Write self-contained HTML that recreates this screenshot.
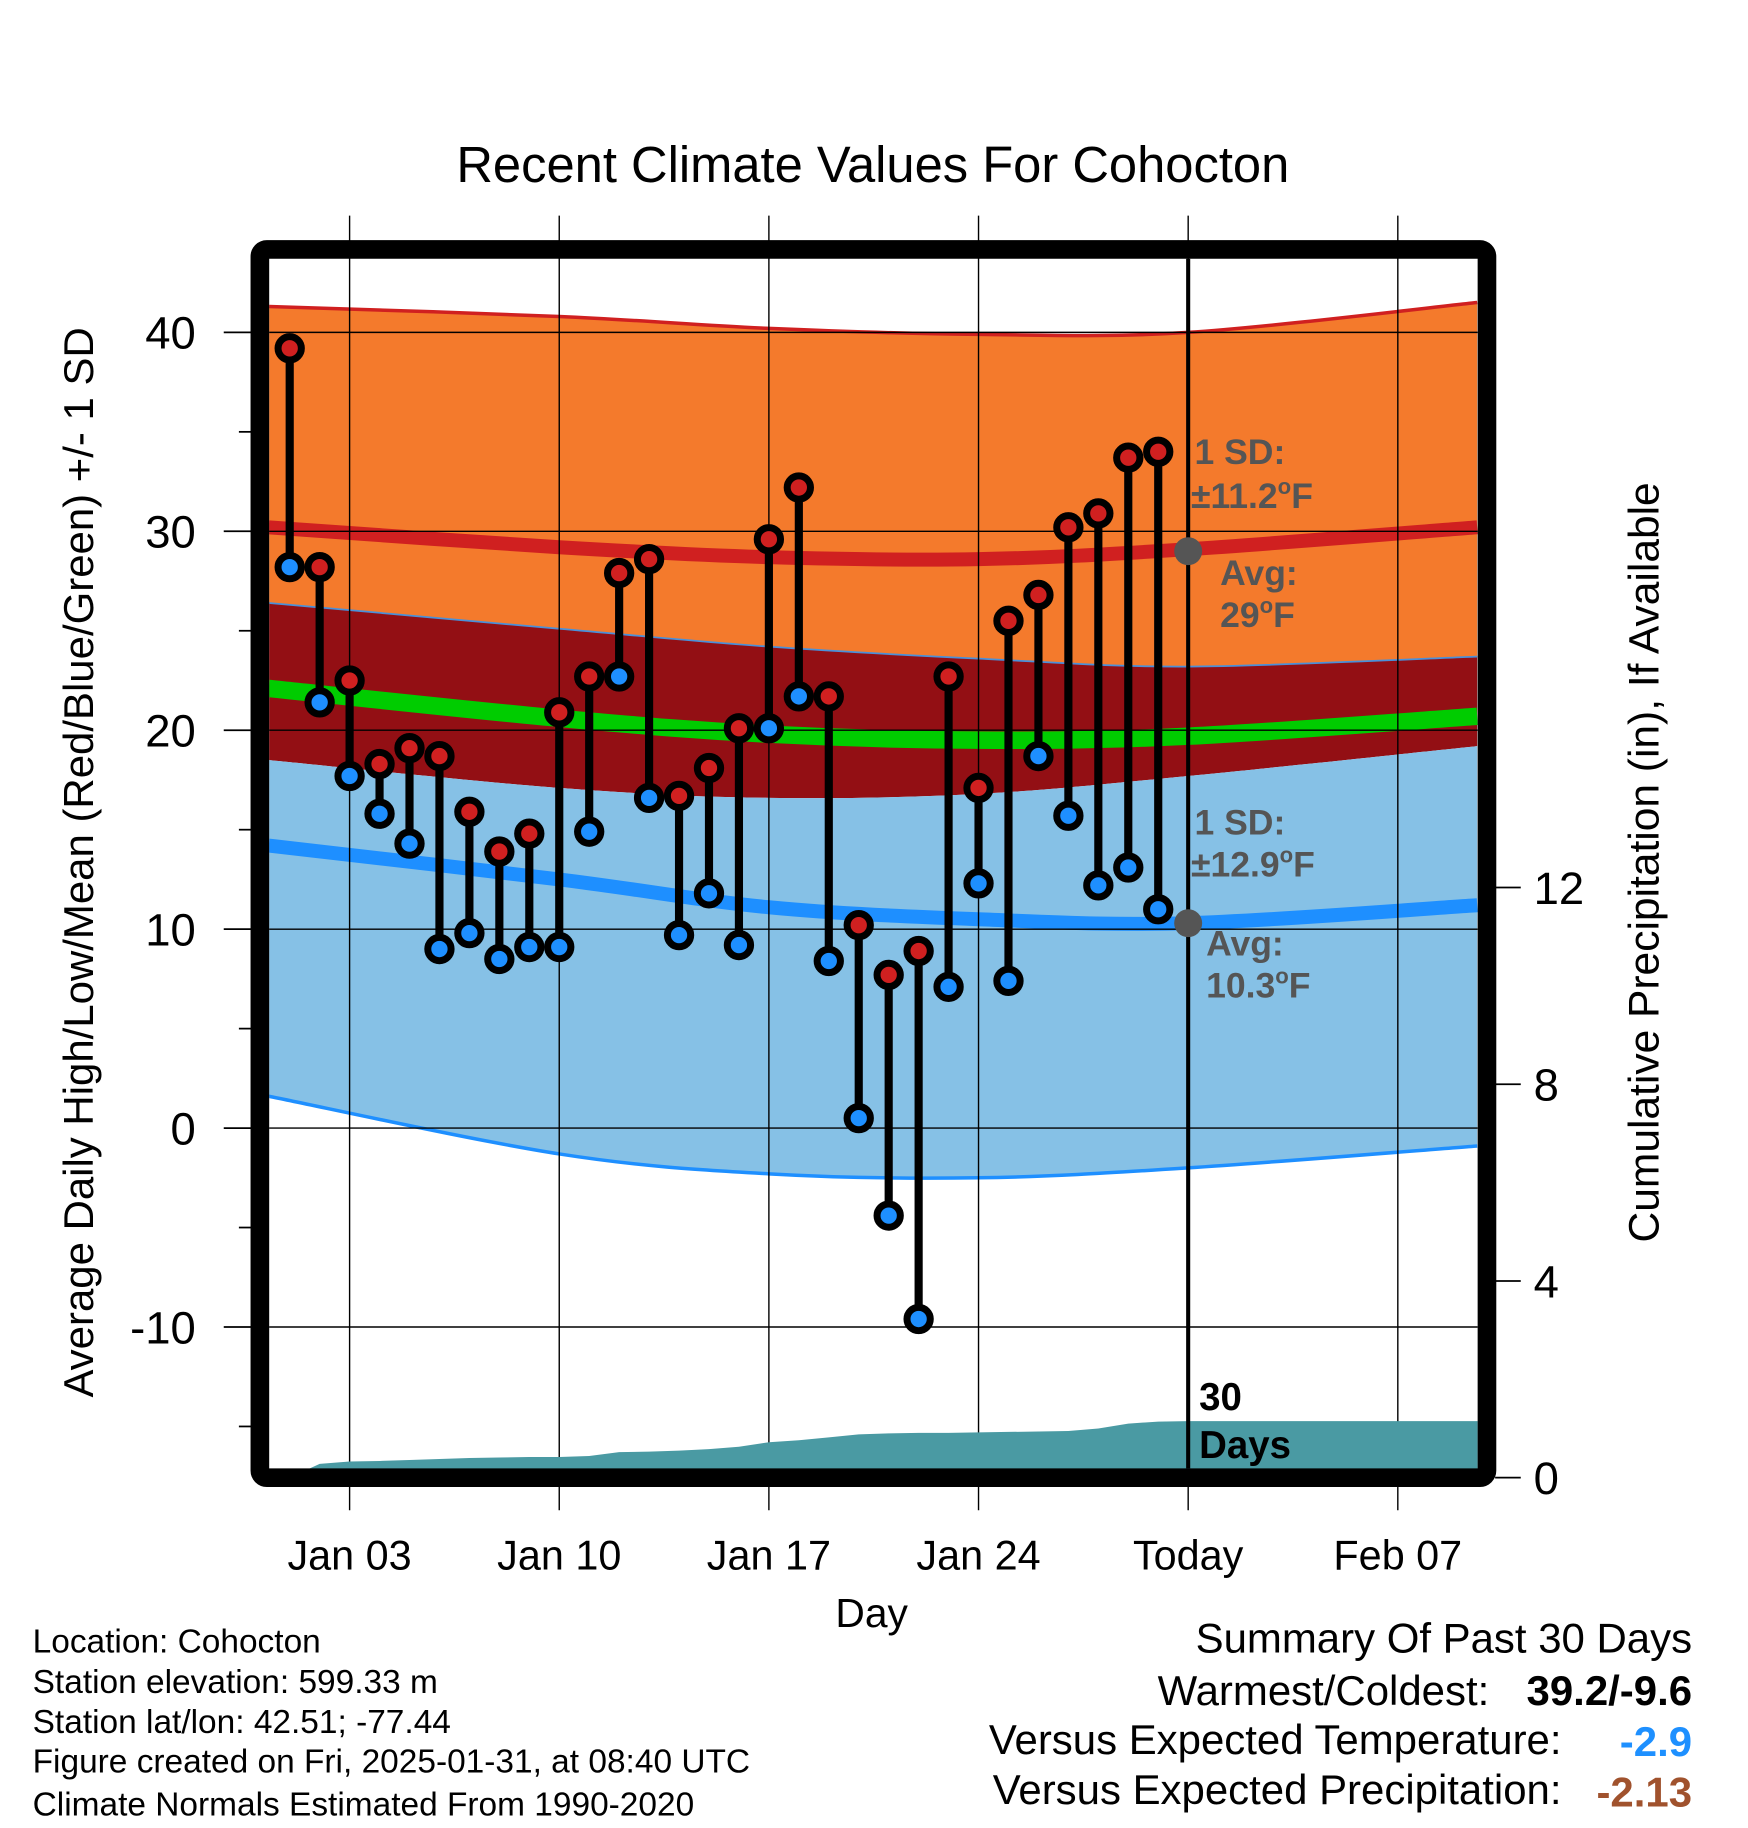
<!DOCTYPE html>
<html><head><meta charset="utf-8"><style>
html,body{margin:0;padding:0;background:#fff}
svg{display:block;font-family:"Liberation Sans",sans-serif}
</style></head><body>
<svg id="chart" width="1748" height="1828" viewBox="0 0 1500 1568.6" xmlns="http://www.w3.org/2000/svg">
<text x="749" y="156" font-size="43.5" text-anchor="middle">Recent Climate Values For Cohocton</text>
<g id="bands"></g>
<g id="grid"></g>
<g id="precip"></g>
<g id="marks"></g>
<g id="axes"></g>
<text transform="translate(80,740) rotate(-90)" font-size="36" text-anchor="middle">Average Daily High/Low/Mean (Red/Blue/Green) +/- 1 SD</text>
<text transform="translate(1423,740) rotate(-90)" font-size="36.5" text-anchor="middle">Cumulative Precipitation (in), If Available</text>
<text x="748" y="1396" font-size="35" text-anchor="middle">Day</text>
<g fill="#555" font-weight="bold" font-size="30.5">
<text x="1025" y="398">1 SD:</text>
<text x="1022" y="436">±11.2<tspan dy="-12" font-size="19">o</tspan><tspan dy="12">F</tspan></text>
<text x="1047" y="502">Avg:</text>
<text x="1047" y="538">29<tspan dy="-12" font-size="19">o</tspan><tspan dy="12">F</tspan></text>
<text x="1025" y="716">1 SD:</text>
<text x="1022" y="752">±12.9<tspan dy="-12" font-size="19">o</tspan><tspan dy="12">F</tspan></text>
<text x="1035" y="820">Avg:</text>
<text x="1035" y="856">10.3<tspan dy="-12" font-size="19">o</tspan><tspan dy="12">F</tspan></text>
</g>
<g font-size="28.7">
<text x="28" y="1418">Location: Cohocton</text>
<text x="28" y="1453">Station elevation: 599.33 m</text>
<text x="28" y="1487">Station lat/lon: 42.51; -77.44</text>
<text x="28" y="1521">Figure created on Fri, 2025-01-31, at 08:40 UTC</text>
<text x="28" y="1558">Climate Normals Estimated From 1990-2020</text>
</g>
<g font-size="36">
<text x="1452" y="1418" text-anchor="end">Summary Of Past 30 Days</text>
<text x="1278" y="1463" text-anchor="end">Warmest/Coldest:</text>
<text x="1452" y="1463" text-anchor="end" font-weight="bold">39.2/-9.6</text>
<text x="1340" y="1505" text-anchor="end">Versus Expected Temperature:</text>
<text x="1452" y="1507" text-anchor="end" font-weight="bold" fill="#1e90ff">-2.9</text>
<text x="1340" y="1548" text-anchor="end">Versus Expected Precipitation:</text>
<text x="1452" y="1550" text-anchor="end" font-weight="bold" fill="#a0522d">-2.13</text>
</g>
</svg>
<script>
// data
const highs=[39.2,28.2,22.5,18.3,19.1,18.7,15.9,13.9,14.8,20.9,22.7,27.9,28.6,16.7,18.1,20.1,29.6,32.2,21.7,10.2,7.7,8.9,22.7,17.1,25.5,26.8,30.2,30.9,33.7,34.0];
const lows=[28.2,21.4,17.7,15.8,14.3,9.0,9.8,8.5,9.1,9.1,14.9,22.7,16.6,9.7,11.8,9.2,20.1,21.7,8.4,0.5,-4.4,-9.6,7.1,12.3,7.4,18.7,15.7,12.2,13.1,11.0];
const precip=[0,0.28,0.33,0.34,0.36,0.38,0.40,0.41,0.42,0.42,0.44,0.52,0.53,0.55,0.58,0.63,0.72,0.76,0.82,0.88,0.90,0.91,0.91,0.92,0.93,0.94,0.95,1.00,1.10,1.14,1.15];
const normDays=[-0.7,9,16,23,30,39.65];
const recHigh=[41.3,40.8,40.2,39.9,40.0,41.5];
const meanHigh=[30.2,29.2,28.7,28.6,29.1,30.2];
const sdHighLow=[26.4,25.1,24.2,23.6,23.2,23.7];
const meanAvg=[22.1,20.6,19.8,19.5,19.7,20.7];
const sdLowHigh=[18.5,17.1,16.6,16.8,17.7,19.2];
const meanLow=[14.2,12.5,11.1,10.5,10.3,11.2];
const sdLowLow=[1.6,-1.3,-2.3,-2.5,-2.0,-0.9];
const yTicks=[-10,0,10,20,30,40];
const pTicks=[0,4,8,12];
const xTickDays=[2,9,16,23,30,37];
const xTickLabels=["Jan 03","Jan 10","Jan 17","Jan 24","Today","Feb 07"];
const todayAvgHigh=29, todayAvgLow=10.3, todayDay=30;

const L=231,R=1268,T=222,B=1260;
const X=d=>248.6+25.7*d;
const Y=v=>968-17.07*v;
const P=p=>1268-42.2*p;
const NS="http://www.w3.org/2000/svg";
function mk(tag,parent,attrs){const e=document.createElementNS(NS,tag);for(const k in attrs)e.setAttribute(k,attrs[k]);parent.appendChild(e);return e;}
function pts(days,vals){return days.map((d,i)=>[X(d),Y(vals[i])]);}
function curve(p){let s="M"+p[0][0]+","+p[0][1];for(let i=0;i<p.length-1;i++){const p0=p[Math.max(0,i-1)],p1=p[i],p2=p[i+1],p3=p[Math.min(p.length-1,i+2)];const c1=[p1[0]+(p2[0]-p0[0])/6,p1[1]+(p2[1]-p0[1])/6],c2=[p2[0]-(p3[0]-p1[0])/6,p2[1]-(p3[1]-p1[1])/6];s+=` C${c1[0]},${c1[1]} ${c2[0]},${c2[1]} ${p2[0]},${p2[1]}`;}return s;}
function band(top,bot){const a=pts(normDays,top),b=pts(normDays,bot).reverse();return curve(a)+" L"+b[0][0]+","+b[0][1]+curve(b).replace(/^M[^C]*/," ")+" Z";}
const bands=document.getElementById('bands');
mk('defs',bands,{}).innerHTML='<clipPath id="cp"><rect x="231" y="222" width="1037" height="1038"/></clipPath>';
bands.setAttribute('clip-path','url(#cp)');
let e;
e=mk('path',bands,{d:band(recHigh,sdHighLow),fill:'#f47a2c'});

e=mk('path',bands,{d:band(sdHighLow,sdLowHigh),fill:'#930f14'});

e=mk('path',bands,{d:band(sdLowHigh,sdLowLow),fill:'#86c1e6'});

e=mk('path',bands,{d:curve(pts(normDays,recHigh)),fill:'none',stroke:'#d02020','stroke-width':3});

e=mk('path',bands,{d:curve(pts(normDays,sdHighLow)),fill:'none',stroke:'#4a90d9','stroke-width':1.5});

e=mk('path',bands,{d:curve(pts(normDays,sdLowLow)),fill:'none',stroke:'#1e8fff','stroke-width':3});

e=mk('path',bands,{d:curve(pts(normDays,meanHigh)),fill:'none',stroke:'#d02020','stroke-width':12});

e=mk('path',bands,{d:curve(pts(normDays,meanAvg)),fill:'none',stroke:'#00cc00','stroke-width':15});

e=mk('path',bands,{d:curve(pts(normDays,meanLow)),fill:'none',stroke:'#1e8fff','stroke-width':12});


const grid=document.getElementById('grid');
yTicks.forEach(v=>{e=mk('line',grid,{x1:L,x2:R,y1:Y(v),y2:Y(v),stroke:'#000','stroke-width':1.2});
});
xTickDays.forEach(d=>{e=mk('line',grid,{x1:X(d),x2:X(d),y1:185,y2:1296,stroke:'#000','stroke-width':1.2});
});

const pg=document.getElementById('precip');
let pd="M"+X(0)+","+P(0);
precip.forEach((p,i)=>{pd+=" L"+X(i)+","+P(p);});
pd+=" L"+R+","+P(precip[precip.length-1])+" L"+R+","+P(0)+" Z";
e=mk('path',pg,{d:pd,fill:'#4a9aa3'});

e=mk('line',pg,{x1:X(todayDay),x2:X(todayDay),y1:T,y2:B,stroke:'#000','stroke-width':3.5});

e=mk('text',pg,{x:1029,y:1210,'font-size':33,'font-weight':'bold'});e.textContent='30';

e=mk('text',pg,{x:1029,y:1251,'font-size':33,'font-weight':'bold'});e.textContent='Days';


const mg=document.getElementById('marks');
highs.forEach((h,i)=>{
 e=mk('line',mg,{x1:X(i),x2:X(i),y1:Y(h),y2:Y(lows[i]),stroke:'#000','stroke-width':7});
 
});
highs.forEach((h,i)=>{
 [[h,'#d02020','high-point'],[lows[i],'#1e8fff','low-point']].forEach(([v,c,n])=>{
  e=mk('circle',mg,{cx:X(i),cy:Y(v),r:10,fill:c,stroke:'#000','stroke-width':6});
  
 });
});
[todayAvgHigh,todayAvgLow].forEach(v=>{e=mk('circle',mg,{cx:X(todayDay),cy:Y(v),r:12,fill:'#555'});
});

const ax=document.getElementById('axes');
e=mk('rect',ax,{x:223,y:214,width:1053,height:1054,rx:6,fill:'none',stroke:'#000','stroke-width':16});

for(let v=-15;v<=40;v+=5){const maj=v%10===0;e=mk('line',ax,{x1:maj?192:205,x2:216,y1:Y(v),y2:Y(v),stroke:'#000','stroke-width':1.5});
}
yTicks.forEach(v=>{e=mk('text',ax,{x:168,y:Y(v)+14,'font-size':39,'text-anchor':'end'});e.textContent=String(v);
});
pTicks.forEach(p=>{e=mk('line',ax,{x1:1283,x2:1305,y1:P(p),y2:P(p),stroke:'#000','stroke-width':1.5});

e=mk('text',ax,{x:1316,y:P(p)+14,'font-size':39});e.textContent=String(p);
});
xTickDays.forEach((d,i)=>{e=mk('text',ax,{x:X(d),y:1347,'font-size':35.5,'text-anchor':'middle'});e.textContent=xTickLabels[i];
});
</script>
</body></html>
